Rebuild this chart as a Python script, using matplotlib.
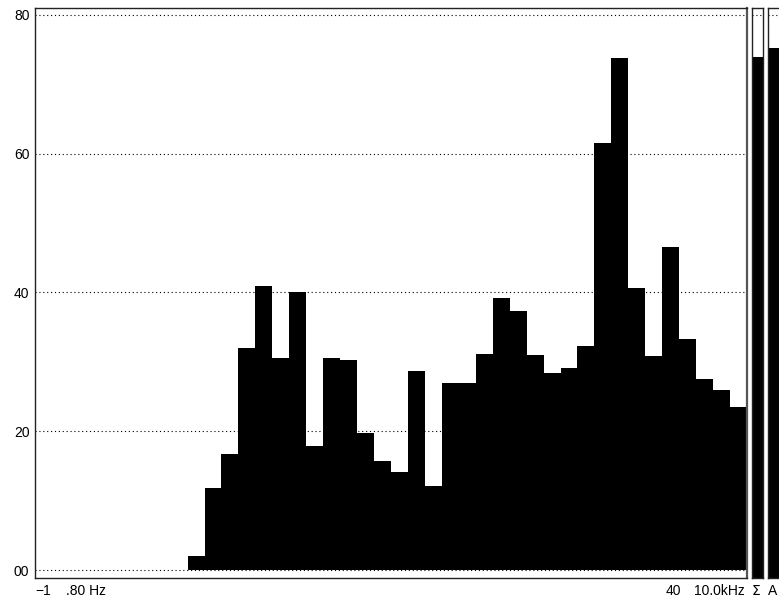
import matplotlib
matplotlib.use("Agg")
import matplotlib.pyplot as plt

plt.rcParams["font.family"] = ["Liberation Sans", "DejaVu Sans"]

# Third-octave band levels (dB), bands 10..42 of a 42-slot display
first_band = 9
n_slots = 42
levels = [2.0, 11.8, 16.7, 32.0, 40.9, 30.6, 40.1, 17.9, 30.5, 30.2, 19.8,
          15.7, 14.1, 28.7, 12.1, 26.9, 27.0, 31.2, 39.2, 37.3, 31.0, 28.4,
          29.1, 32.3, 61.6, 73.8, 40.6, 30.9, 46.5, 33.3, 27.5, 25.9, 23.5]
sum_level = 73.9
a_level = 75.2

y_ticks = [0, 20, 40, 60, 80]
y_tick_labels = ["00", "20", "40", "60", "80"]
y_min, y_max = -1.15, 81.0

W, H = 779, 600
fig = plt.figure(figsize=(W / 100, H / 100), dpi=100)

bottom = (H - 578) / H
height = (578 - 8) / H


def style_box(ax):
    ax.set_ylim(y_min, y_max)
    for s in ax.spines.values():
        s.set_color("#222222")
        s.set_linewidth(1.0)
    for y in y_ticks:
        ax.axhline(y, color="black", linestyle=(0, (1, 2.5)), linewidth=0.8,
                   zorder=0)


# Main spectrum
ax = fig.add_axes([35 / W, bottom, (747 - 35) / W, height])
style_box(ax)
ax.set_xlim(0, n_slots)
xs = [first_band + i for i in range(len(levels))]
ax.bar(xs, levels, width=1.0, align="edge", color="black", edgecolor="none",
       zorder=2)
ax.set_xticks([])
ax.set_yticks(y_ticks)
ax.set_yticklabels(y_tick_labels, fontsize=10)
ax.tick_params(axis="y", length=0, pad=4)
ax.spines["right"].set_color("#555555")
ax.spines["right"].set_linewidth(1.6)

# Overall (Σ) and A-weighted level columns
for x0, x1, val in [(752, 763, sum_level), (768, 781, a_level)]:
    bx = fig.add_axes([x0 / W, bottom, (x1 - x0) / W, height])
    style_box(bx)
    bx.set_xlim(0, 1)
    bx.bar([0], [val - y_min], bottom=y_min, width=1.0, align="edge",
           color="black", edgecolor="none", zorder=2)
    bx.set_xticks([])
    bx.set_yticks([])

ty = 1 - 591 / H
fig.text(35 / W, ty, "\u22121", fontsize=10, va="center", ha="left")
fig.text(66 / W, ty, ".80 Hz", fontsize=10, va="center", ha="left")
fig.text(681 / W, ty, "40", fontsize=10, va="center", ha="right")
fig.text(745 / W, ty, "10.0kHz", fontsize=10, va="center", ha="right")
fig.text(756 / W, ty, "\u03a3", fontsize=10, va="center", ha="center",
         family=["DejaVu Sans"])
fig.text(773 / W, ty, "A", fontsize=10, va="center", ha="center")

fig.savefig("out.png", dpi=100, facecolor="white")
